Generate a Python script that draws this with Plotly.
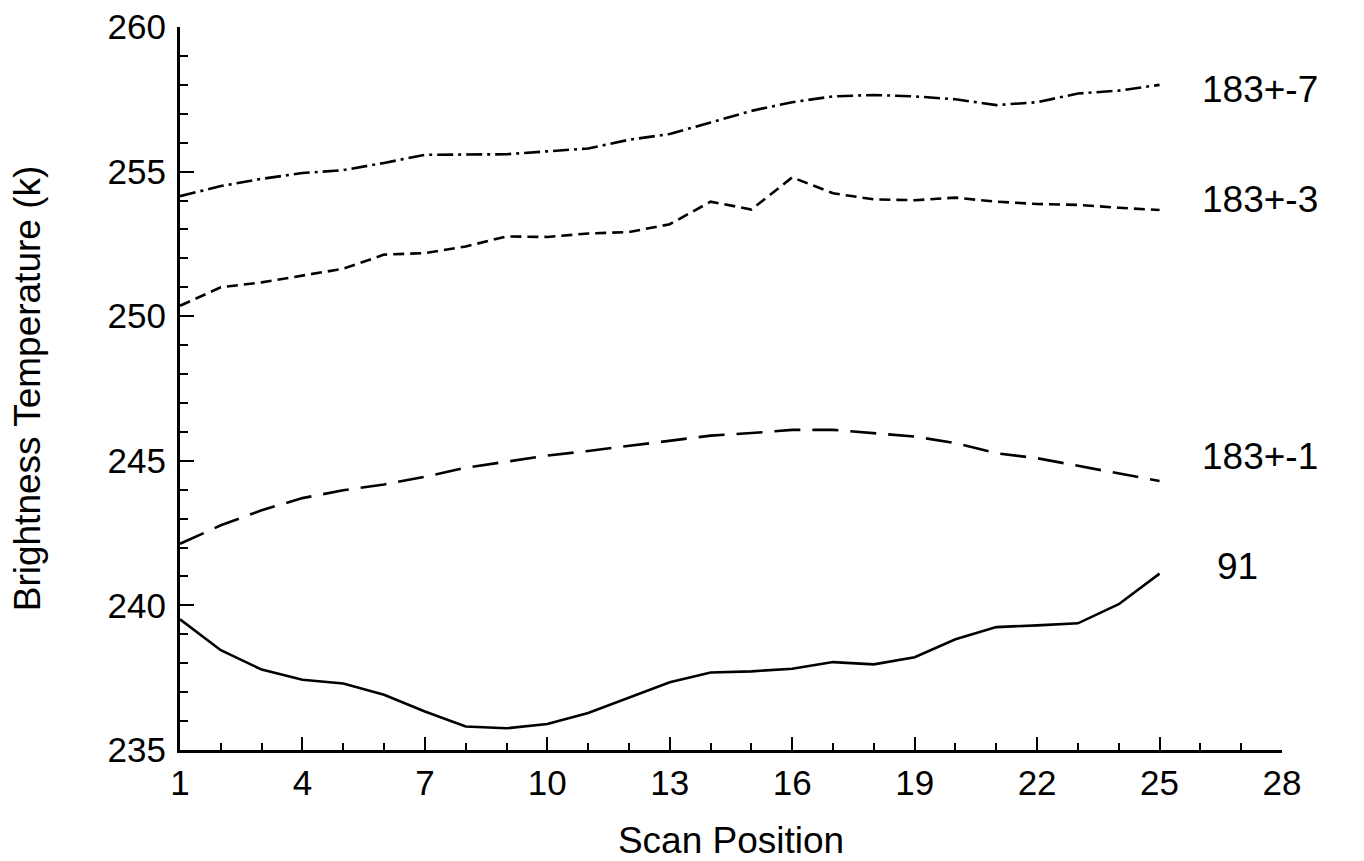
import plotly.graph_objects as go

scan_pos = list(range(1, 26))

tb_91 = [239.52, 238.45, 237.78, 237.43, 237.30, 236.91, 236.33, 235.81, 235.75, 235.90,
         236.28, 236.80, 237.34, 237.68, 237.72, 237.81, 238.04, 237.96, 238.21, 238.83,
         239.25, 239.31, 239.38, 240.04, 241.10]
tb_183_1 = [242.13, 242.77, 243.29, 243.71, 243.98, 244.18, 244.45, 244.76, 244.97, 245.18,
            245.34, 245.52, 245.70, 245.87, 245.96, 246.07, 246.07, 245.96, 245.84, 245.61,
            245.26, 245.09, 244.83, 244.57, 244.30]
tb_183_3 = [250.36, 251.00, 251.17, 251.40, 251.64, 252.13, 252.18, 252.41, 252.76, 252.74,
            252.86, 252.91, 253.18, 253.96, 253.69, 254.80, 254.25, 254.04, 254.01, 254.10,
            253.96, 253.88, 253.85, 253.75, 253.67]
tb_183_7 = [254.15, 254.50, 254.75, 254.95, 255.05, 255.30, 255.58, 255.60, 255.60, 255.70,
            255.80, 256.10, 256.30, 256.70, 257.10, 257.40, 257.60, 257.65, 257.60, 257.50,
            257.30, 257.40, 257.70, 257.80, 258.00]

series_names = ["91", "183+-1", "183+-3", "183+-7"]
label_y = [241.33, 245.16, 254.03, 257.85]
label_x = [26.35, 26.0, 26.0, 26.0]

x_ticks = list(range(1, 29, 3))
y_ticks = list(range(235, 261, 5))

FONT = "Liberation Sans, Arial, sans-serif"

fig = go.Figure()
dashes = ["solid", "26px,12px", "11px,6px", "16px,5px,3px,5px"]
for name, ys, dash in zip(series_names, [tb_91, tb_183_1, tb_183_3, tb_183_7], dashes):
    fig.add_trace(go.Scatter(x=scan_pos, y=ys, mode="lines", name=name,
                             line=dict(color="black", width=2.6, dash=dash),
                             showlegend=False))

for name, lx, ly in zip(series_names, label_x, label_y):
    fig.add_annotation(x=lx, y=ly, xref="x", yref="y", text=name, showarrow=False,
                       xanchor="left", yanchor="middle",
                       font=dict(family=FONT, size=37, color="black"))

fig.update_layout(
    width=1364, height=861,
    margin=dict(l=180, r=82, t=27, b=111),
    paper_bgcolor="white", plot_bgcolor="white",
    font=dict(family=FONT, size=35, color="black"),
    xaxis=dict(
        range=[1, 28], tickvals=x_ticks, ticktext=[str(v) for v in x_ticks],
        showline=True, linecolor="black", linewidth=3, mirror=False,
        ticks="inside", ticklen=13, tickwidth=2, tickcolor="black",
        showgrid=False, zeroline=False, automargin=False,
        minor=dict(dtick=1, tick0=1, ticks="inside", ticklen=7, tickwidth=2,
                   tickcolor="black", showgrid=False),
        tickfont=dict(family=FONT, size=35),
        title=dict(text="Scan Position", font=dict(family=FONT, size=37), standoff=28),
    ),
    yaxis=dict(
        range=[235, 260], tickvals=y_ticks, ticktext=[str(v) for v in y_ticks],
        showline=True, linecolor="black", linewidth=3, mirror=False,
        ticks="inside", ticklen=14, tickwidth=2, tickcolor="black",
        showgrid=False, zeroline=False, automargin=False,
        minor=dict(dtick=1, tick0=235, ticks="inside", ticklen=8, tickwidth=2,
                   tickcolor="black", showgrid=False),
        tickfont=dict(family=FONT, size=35),
        ticklabelstandoff=4,
        title=dict(text="Brightness Temperature (k)", font=dict(family=FONT, size=37), standoff=56),
    ),
)

fig.write_html("out.html")
